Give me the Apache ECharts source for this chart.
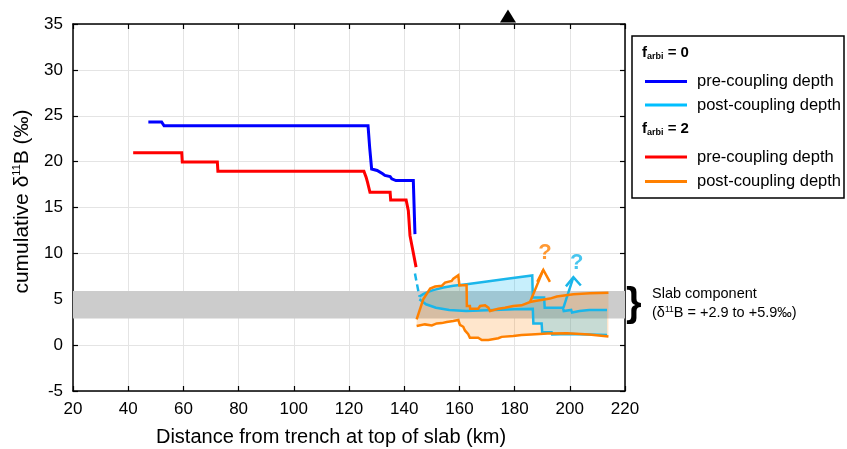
<!DOCTYPE html>
<html><head><meta charset="utf-8">
<script src="https://cdn.jsdelivr.net/npm/echarts@6/dist/echarts.min.js"></script>
<style>html,body{margin:0;padding:0;background:#fff}#c{width:847px;height:449px}</style>
</head><body><div id="c"></div>
<script>
// ---------- data ----------
const xTickMin = 20, xTickMax = 220, xTickStep = 20;
const yTickMin = -5, yTickMax = 35, yTickStep = 5;
const slabBand = [2.9, 5.9];
const markerX = [177.6];

// f_arbi = 0, pre-coupling depth
const preBlueX = [47.3, 52.1, 53.0, 126.9, 127.5, 128.2, 128.8, 130.2, 130.9, 132.2, 133.0, 134.9, 135.5, 137.0, 143.3, 143.5, 143.9];
const preBlueY = [24.32, 24.32, 23.9, 23.9, 21.5, 19.2, 19.1, 19.04, 18.85, 18.67, 18.5, 18.38, 18.13, 17.94, 17.94, 17.76, 12.1];

// f_arbi = 2, pre-coupling depth
const preRedX = [41.8, 59.4, 59.6, 72.3, 72.5, 125.4, 126.2, 126.7, 127.2, 127.6, 134.9, 135.1, 140.7, 141.5, 142.1, 144.3];
const preRedY = [20.97, 20.97, 19.95, 19.95, 18.96, 18.96, 18.3, 17.76, 17.76, 16.66, 16.66, 15.83, 15.83, 14.66, 11.93, 8.5];

// f_arbi = 0, post-coupling depth (dashed start, upper and lower bounds)
const postBlueDashX = [143.9, 145.5];
const postBlueDashY = [7.8, 5.3];
const postBlueUpX = [145.5, 146.9, 148.7, 150.5, 154.2, 157.8, 162.6, 170, 178, 186.4, 186.6, 190.7, 190.9, 197.5, 197.8, 200.5, 200.8, 203.5, 207, 213.5];
const postBlueUpY = [5.3, 5.55, 5.8, 6.0, 6.27, 6.46, 6.64, 6.93, 7.25, 7.6, 5.18, 5.18, 4.08, 4.08, 3.72, 3.83, 3.55, 3.72, 3.83, 3.83];
const postBlueLoX = [145.5, 147.9, 151.5, 156.3, 162.4, 170, 180, 186.6, 186.8, 189.8, 190.0, 193.4, 193.6, 200, 207, 213.5];
const postBlueLoY = [5.0, 4.45, 4.08, 3.83, 3.72, 3.8, 3.9, 3.95, 2.35, 2.35, 1.4, 1.4, 1.15, 1.2, 1.15, 1.1];

// f_arbi = 2, post-coupling depth (upper and lower bounds)
const postOrUpX = [144.5, 145.1, 146.9, 149.4, 151.2, 153.6, 154.8, 157.2, 157.8, 159.6, 160.0, 162.6, 162.7, 163.8, 163.9, 166.8, 167.5, 169.3, 170.5, 171.1, 174.1, 176.5, 179.5, 182.5, 185.6, 187.4, 192.8, 195.3, 201.3, 207.3, 214];
const postOrUpY = [2.8, 3.36, 5.0, 6.16, 6.38, 6.46, 6.82, 7.0, 7.25, 7.63, 6.5, 6.55, 4.27, 4.27, 3.97, 3.97, 4.27, 4.34, 4.08, 3.72, 3.97, 4.08, 4.27, 4.34, 4.7, 4.81, 5.07, 5.29, 5.55, 5.65, 5.7];
const postOrLoX = [144.5, 145.1, 147.5, 150, 151.8, 153.6, 155.4, 157.8, 159.6, 160.2, 161.4, 162.0, 163.2, 163.8, 166.8, 168.1, 170.5, 171.1, 174.1, 175.3, 179.5, 182.5, 186, 192, 199, 207, 214];
const postOrLoY = [2.08, 2.26, 2.26, 2.15, 2.37, 2.4, 2.52, 2.63, 2.74, 2.2, 2.0, 1.6, 1.2, 0.8, 0.8, 0.55, 0.55, 0.65, 0.75, 0.9, 1.0, 1.1, 1.17, 1.28, 1.3, 1.15, 0.95];

// "?" arrows
const orArrowShaftX = [185.6, 190.4];
const orArrowShaftY = [4.7, 8.2];
const orArrowHeadX = [188.2, 190.4, 192.8];
const orArrowHeadY = [6.9, 8.2, 6.9];
const orQuestion = [191.0, 10.0];
const blArrowShaftX = [197.7, 201.3];
const blArrowShaftY = [4.08, 7.4];
const blArrowHeadX = [198.6, 201.3, 204.0];
const blArrowHeadY = [6.4, 7.4, 6.5];
const blQuestion = [202.5, 9.0];

// ---------- build ----------
const FONT = 'Liberation Sans, Arial, Helvetica, sans-serif';
const C_BLUE = '#0000ff', C_LBLUE = '#1ab6ea', C_RED = '#ff0000', C_OR = '#ff8000';
const zip = (xs, ys) => xs.map((x, i) => [x, ys[i]]);

function fillRender(upX, upY, loX, loY, color) {
  return function (params, api) {
    const pts = [];
    for (let i = 0; i < upX.length; i++) pts.push(api.coord([upX[i], upY[i]]));
    for (let i = loX.length - 1; i >= 0; i--) pts.push(api.coord([loX[i], loY[i]]));
    return { type: 'polygon', shape: { points: pts }, style: { fill: color } };
  };
}

function lineS(data, color, width, z, extra) {
  return Object.assign({
    type: 'line', data: data, showSymbol: false, symbol: 'none', z: z,
    lineStyle: { color: color, width: width, cap: 'butt', join: 'miter' },
    silent: true, animation: false
  }, extra || {});
}

const chart = echarts.init(document.getElementById('c'), null, { renderer: 'canvas' });
const axisCommon = {
  type: 'value',
  axisLine: { show: true, onZero: false, lineStyle: { color: '#000', width: 1.5 } },
  axisTick: { show: true, inside: true, length: 5, lineStyle: { color: '#000', width: 1.2 } },
};
const option = {
  animation: false,
  backgroundColor: '#fff',
  textStyle: { fontFamily: FONT },
  grid: { left: 73, right: 222, top: 24, bottom: 58, containLabel: false, outerBoundsMode: 'none' },
  xAxis: [
    Object.assign({}, axisCommon, {
      min: xTickMin, max: xTickMax, interval: xTickStep, position: 'bottom',
      axisLabel: { color: '#000', fontSize: 17, fontFamily: FONT, margin: 10 },
      splitLine: { show: true, lineStyle: { color: '#e4e4e4', width: 1 } },
      name: 'Distance from trench at top of slab (km)', nameLocation: 'middle', nameGap: 36,
      nameTextStyle: { color: '#000', fontSize: 20, fontFamily: FONT, padding: [0, 36, 0, 0] }
    }),
    Object.assign({}, axisCommon, {
      min: xTickMin, max: xTickMax, interval: xTickStep, position: 'top',
      axisLabel: { show: false }, splitLine: { show: false }
    })
  ],
  yAxis: [
    Object.assign({}, axisCommon, {
      min: yTickMin, max: yTickMax, interval: yTickStep, position: 'left',
      axisLabel: { color: '#000', fontSize: 17, fontFamily: FONT, margin: 10 },
      splitLine: { show: true, lineStyle: { color: '#e4e4e4', width: 1 } },
      name: 'cumulative δ{sup|11}B (‰)', nameLocation: 'middle', nameGap: 38, nameRotate: 90,
      nameTextStyle: { color: '#000', fontSize: 21, fontFamily: FONT, padding: [0, 0, 0, 12],
        rich: { sup: { fontSize: 11, fontFamily: FONT, color: '#000', verticalAlign: 'top', lineHeight: 22 } } }
    }),
    Object.assign({}, axisCommon, {
      min: yTickMin, max: yTickMax, interval: yTickStep, position: 'right',
      axisLabel: { show: false }, splitLine: { show: false }
    })
  ],
  series: [
    // gray slab band
    lineS([], '#000', 0, 1, {
      markArea: { silent: true, itemStyle: { color: '#cccccc' },
        data: [[{ yAxis: slabBand[0] }, { yAxis: slabBand[1] }]] }
    }),
    // fills
    { type: 'custom', z: 2, silent: true, data: [0], renderItem: fillRender(postOrUpX, postOrUpY, postOrLoX, postOrLoY, 'rgba(255,128,0,0.2)') },
    { type: 'custom', z: 2, silent: true, data: [0], renderItem: fillRender(postBlueUpX, postBlueUpY, postBlueLoX, postBlueLoY, 'rgba(0,180,240,0.22)') },
    // pre-coupling lines
    lineS(zip(preBlueX, preBlueY), C_BLUE, 3, 4, {
      markPoint: { silent: true, symbol: 'triangle', symbolSize: [16, 13], symbolOffset: [0, -8],
        itemStyle: { color: '#000' }, label: { show: false },
        data: [{ coord: [markerX[0], yTickMax] }] }
    }),
    lineS(zip(preRedX, preRedY), C_RED, 3, 4),
    // post-coupling lines
    lineS(zip(postBlueDashX, postBlueDashY), C_LBLUE, 2.5, 4, { lineStyle: { color: C_LBLUE, width: 2.5, type: [7, 4] } }),
    lineS(zip(postBlueUpX, postBlueUpY), C_LBLUE, 2.5, 4),
    lineS(zip(postBlueLoX, postBlueLoY), C_LBLUE, 2.5, 4),
    lineS(zip(blArrowShaftX, blArrowShaftY), C_LBLUE, 2.5, 4),
    lineS(zip(blArrowHeadX, blArrowHeadY), C_LBLUE, 2.5, 4),
    lineS(zip(postOrUpX, postOrUpY), C_OR, 2.5, 5),
    lineS(zip(postOrLoX, postOrLoY), C_OR, 2.5, 5),
    lineS(zip(orArrowShaftX, orArrowShaftY), C_OR, 2.5, 5),
    lineS(zip(orArrowHeadX, orArrowHeadY), C_OR, 2.5, 5),
    { type: 'scatter', z: 6, silent: true, symbolSize: 0, data: [orQuestion],
      label: { show: true, position: 'inside', formatter: '?', color: C_OR, fontSize: 22, fontWeight: 'bold', fontFamily: FONT } },
    { type: 'scatter', z: 6, silent: true, symbolSize: 0, data: [blQuestion],
      label: { show: true, position: 'inside', formatter: '?', color: C_LBLUE, fontSize: 22, fontWeight: 'bold', fontFamily: FONT } }
  ],
  graphic: [
    { type: 'rect', shape: { x: 632, y: 36, width: 212, height: 162 }, style: { fill: '#fff', stroke: '#000', lineWidth: 1.5 }, z: 10 },
    { type: 'text', x: 642, y: 53, z: 11, style: { text: '{b|f}{s|arbi}{b| = 0}', verticalAlign: 'middle', rich: {
      b: { fontSize: 15, fontWeight: 'bold', fontFamily: FONT, color: '#000' },
      s: { fontSize: 9, fontWeight: 'bold', fontFamily: FONT, color: '#000', verticalAlign: 'bottom', padding: [8, 0, 0, 0] } } } },
    { type: 'line', z: 11, shape: { x1: 645, y1: 81.5, x2: 687, y2: 81.5 }, style: { stroke: C_BLUE, lineWidth: 3 } },
    { type: 'text', x: 697, y: 81.5, z: 11, style: { text: 'pre-coupling depth', fontSize: 16.5, fontFamily: FONT, fill: '#000', verticalAlign: 'middle' } },
    { type: 'line', z: 11, shape: { x1: 645, y1: 105, x2: 687, y2: 105 }, style: { stroke: '#00bfff', lineWidth: 3 } },
    { type: 'text', x: 697, y: 105, z: 11, style: { text: 'post-coupling depth', fontSize: 16.5, fontFamily: FONT, fill: '#000', verticalAlign: 'middle' } },
    { type: 'text', x: 642, y: 129, z: 11, style: { text: '{b|f}{s|arbi}{b| = 2}', verticalAlign: 'middle', rich: {
      b: { fontSize: 15, fontWeight: 'bold', fontFamily: FONT, color: '#000' },
      s: { fontSize: 9, fontWeight: 'bold', fontFamily: FONT, color: '#000', verticalAlign: 'bottom', padding: [8, 0, 0, 0] } } } },
    { type: 'line', z: 11, shape: { x1: 645, y1: 157, x2: 687, y2: 157 }, style: { stroke: C_RED, lineWidth: 3 } },
    { type: 'text', x: 697, y: 157, z: 11, style: { text: 'pre-coupling depth', fontSize: 16.5, fontFamily: FONT, fill: '#000', verticalAlign: 'middle' } },
    { type: 'line', z: 11, shape: { x1: 645, y1: 181.5, x2: 687, y2: 181.5 }, style: { stroke: C_OR, lineWidth: 3 } },
    { type: 'text', x: 697, y: 181.5, z: 11, style: { text: 'post-coupling depth', fontSize: 16.5, fontFamily: FONT, fill: '#000', verticalAlign: 'middle' } },
    // slab annotation
    { type: 'text', x: 626, y: 305, z: 11, style: { text: '}', fontSize: 40, fontWeight: 'bold', fontFamily: FONT, fill: '#000', verticalAlign: 'middle' } },
    { type: 'text', x: 652, y: 294, z: 11, style: { text: 'Slab component', fontSize: 14.5, fontFamily: FONT, fill: '#000', verticalAlign: 'middle' } },
    { type: 'text', x: 652, y: 313, z: 11, style: { text: '(δ{sup|11}B = +2.9 to +5.9‰)', fontSize: 14.5, fontFamily: FONT, fill: '#000', verticalAlign: 'middle',
      rich: { sup: { fontSize: 8.5, fontFamily: FONT, color: '#000', verticalAlign: 'top', lineHeight: 16 } } } }
  ]
};
chart.setOption(option);
</script>
</body></html>
